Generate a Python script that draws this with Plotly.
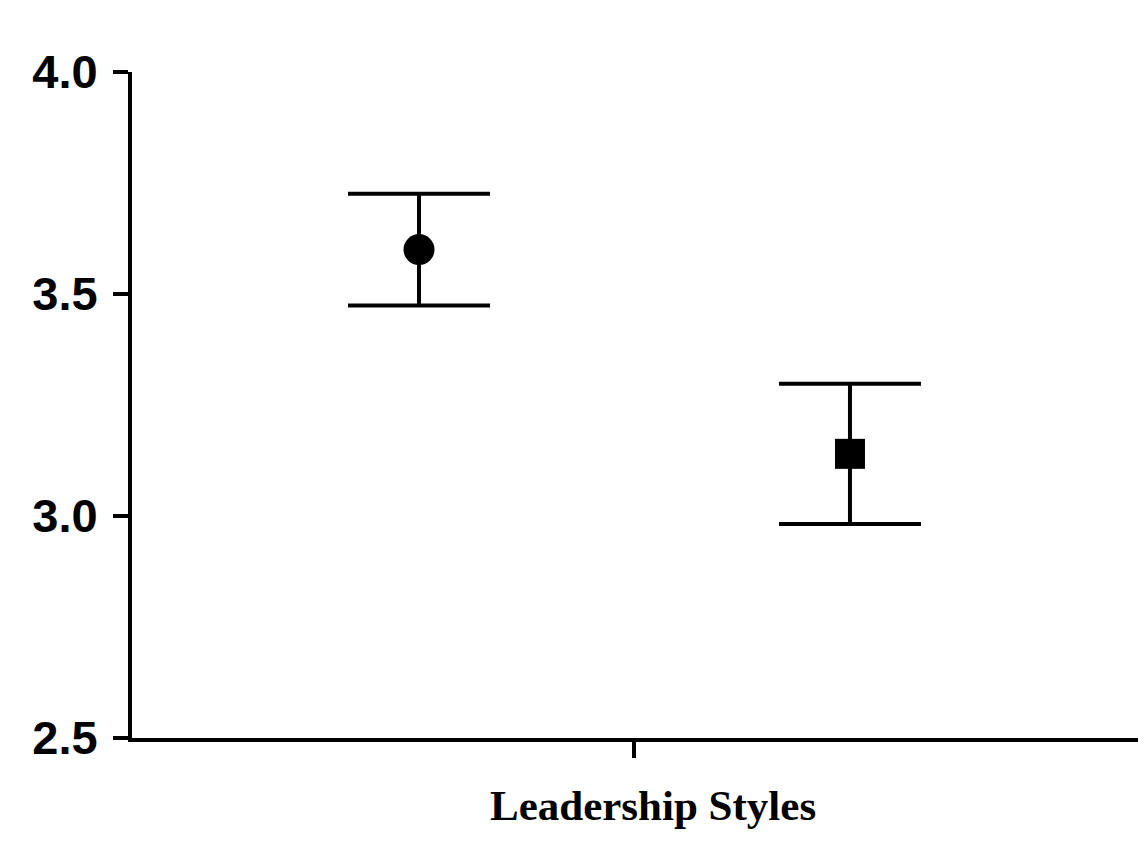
import plotly.graph_objects as go

# group positions on the x axis and their means with error half-widths
group_x = [1, 2]
means = [3.60, 3.14]
errors = [0.126, 0.158]
symbols = ["circle", "square"]

y_ticks = [2.5, 3.0, 3.5, 4.0]
y_tick_text = ["2.5", "3.0", "3.5", "4.0"]
x_title = "Leadership Styles"

fig = go.Figure()

for gx, m, e, s in zip(group_x, means, errors, symbols):
    fig.add_trace(go.Scatter(
        x=[gx], y=[m],
        mode="markers",
        marker=dict(symbol=s, size=31 if s == "circle" else 30, color="black"),
        error_y=dict(type="data", array=[e], visible=True,
                     color="black", thickness=4, width=71),
        showlegend=False,
    ))

fig.update_layout(
    width=1146, height=841,
    margin=dict(l=124, r=14, t=64, b=111),
    plot_bgcolor="white",
    paper_bgcolor="white",
    font=dict(family="Liberation Sans", color="black"),
)

fig.update_xaxes(
    range=[0.334, 2.673],
    tickvals=[1.5], ticktext=[""],
    ticks="outside", ticklen=16, tickwidth=4, tickcolor="black",
    showline=True, linewidth=4, linecolor="black",
    showgrid=False, zeroline=False,
)

fig.update_yaxes(
    range=[2.5, 4.0],
    tickvals=y_ticks, ticktext=y_tick_text,
    ticks="outside", ticklen=15, tickwidth=4, tickcolor="black",
    tickfont=dict(family="Liberation Sans", size=47, color="black", weight="bold"),
    ticklabelstandoff=6,
    showline=True, linewidth=4, linecolor="black",
    showgrid=False, zeroline=False,
)

fig.add_annotation(
    text="<b>" + x_title + "</b>",
    xref="paper", yref="paper", x=0.517, y=-0.14,
    showarrow=False,
    font=dict(family="Liberation Serif", size=43, color="black"),
)

fig.write_html("out.html")
